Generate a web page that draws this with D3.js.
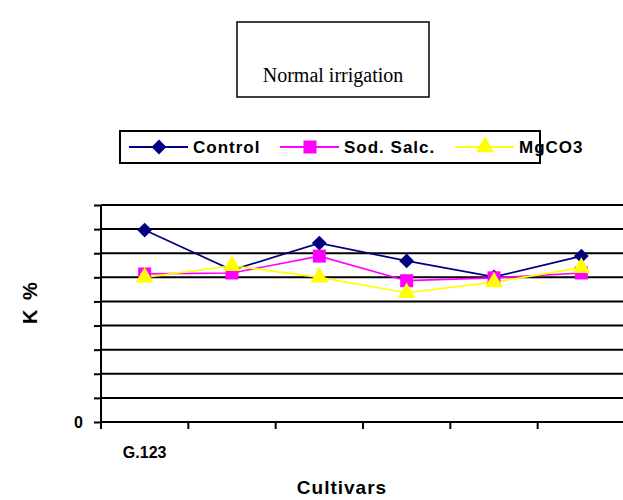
<!DOCTYPE html>
<html>
<head>
<meta charset="utf-8">
<script src="https://cdn.jsdelivr.net/npm/d3@7"></script>
<style>
  body { margin: 0; background: #fff; }
  svg { display: block; }
</style>
</head>
<body>
<div id="chart"></div>
<script>
// cultivar slots, only the first one carries a label in the source chart
const cultivars = [1, 2, 3, 4, 5, 6];
const cultivarLabels = ["G.123", "", "", "", "", ""];

const control = [3.98, 3.15, 3.71, 3.34, 3.01, 3.44];
const sodSalc = [3.07, 3.09, 3.44, 2.93, 2.99, 3.09];
const mgco3 = [3.0, 3.24, 3.0, 2.68, 2.9, 3.2];

const seriesNames = ["Control", "Sod. Salc.", "MgCO3"];
const yTicks = [0, 0.5, 1, 1.5, 2, 2.5, 3, 3.5, 4, 4.5];
const yTickLabels = ["0", "", "", "", "", "", "", "", "", ""];

const W = 623, H = 500;
const font = "Arial, 'Liberation Sans', sans-serif";
const svg = d3.select("#chart").append("svg")
  .attr("width", W).attr("height", H);

const x = d3.scaleBand().domain(cultivars).range([101, 625]).padding(0);
const y = d3.scaleLinear().domain([0, 4.5]).range([422, 205]);

// gridlines
svg.append("g")
  .selectAll("line")
  .data(yTicks.slice(1))
  .join("line")
  .attr("x1", 101).attr("x2", 625)
  .attr("y1", d => y(d)).attr("y2", d => y(d))
  .attr("stroke", "#000").attr("stroke-width", 2);

// y axis
const yAxis = svg.append("g")
  .attr("transform", "translate(101,0)")
  .call(d3.axisLeft(y).tickValues(yTicks).tickSize(7)
    .tickFormat((d, i) => yTickLabels[i]));
yAxis.select(".domain").attr("stroke-width", 2).attr("d", "M0," + (y(0) + 7) + "V" + y(4.5));
yAxis.selectAll(".tick line").attr("stroke-width", 2);
yAxis.selectAll(".tick text")
  .attr("x", -18)
  .style("font-family", font)
  .style("font-weight", "bold").style("font-size", "16px");

// x axis, ticks between categories
const bounds = cultivars.map(c => x(c));
const xAxis = svg.append("g").attr("transform", "translate(0," + y(0) + ")");
xAxis.append("line")
  .attr("x1", 101).attr("x2", 625)
  .attr("stroke", "#000").attr("stroke-width", 2);
xAxis.selectAll(".xt")
  .data(bounds)
  .join("line")
  .attr("class", "xt")
  .attr("x1", d => d).attr("x2", d => d)
  .attr("y1", 0).attr("y2", 7)
  .attr("stroke", "#000").attr("stroke-width", 2);
xAxis.selectAll(".xl")
  .data(cultivars)
  .join("text")
  .attr("class", "xl")
  .attr("x", d => x(d) + x.bandwidth() / 2)
  .attr("y", 36)
  .attr("text-anchor", "middle")
  .style("font-family", font)
  .style("font-weight", "bold").style("font-size", "16px")
  .text((d, i) => cultivarLabels[i]);

// axis titles
svg.append("text")
  .attr("x", 342).attr("y", 494)
  .attr("text-anchor", "middle")
  .style("font-family", font)
  .style("font-weight", "bold").style("font-size", "19px")
  .style("letter-spacing", "1px")
  .text("Cultivars");

svg.append("text")
  .attr("transform", "translate(37,302) rotate(-90)")
  .attr("text-anchor", "middle")
  .style("font-family", font)
  .style("font-weight", "bold").style("font-size", "20px")
  .style("letter-spacing", "2px")
  .text("K %");

// series
const series = [
  { name: seriesNames[0], values: control, color: "#000080", symbol: d3.symbolSquare, size: 110, rot: 45 },
  { name: seriesNames[1], values: sodSalc, color: "#ff00ff", symbol: d3.symbolSquare, size: 169, rot: 0 },
  { name: seriesNames[2], values: mgco3, color: "#ffff00", symbol: d3.symbolTriangle, size: 140, rot: 0 }
];

const line = d3.line()
  .x((d, i) => x(cultivars[i]) + x.bandwidth() / 2)
  .y(d => y(d));

series.forEach(s => {
  svg.append("path")
    .datum(s.values)
    .attr("fill", "none")
    .attr("stroke", s.color)
    .attr("stroke-width", 1.7)
    .attr("d", line);
});
series.forEach(s => {
  svg.append("g")
    .selectAll("path")
    .data(s.values)
    .join("path")
    .attr("transform", (d, i) => "translate(" + (x(cultivars[i]) + x.bandwidth() / 2) + "," + y(d) + ") rotate(" + s.rot + ")")
    .attr("d", d3.symbol().type(s.symbol).size(s.size))
    .attr("fill", s.color);
});

// title box
svg.append("rect")
  .attr("x", 237).attr("y", 22).attr("width", 192).attr("height", 75)
  .attr("fill", "#fff").attr("stroke", "#000").attr("stroke-width", 1.5);
svg.append("text")
  .attr("x", 333).attr("y", 82)
  .attr("text-anchor", "middle")
  .style("font-family", "'Liberation Serif', 'Times New Roman', serif")
  .style("font-size", "20px")
  .text("Normal irrigation");

// legend
const legend = svg.append("g");
legend.append("rect")
  .attr("x", 120).attr("y", 131).attr("width", 420).attr("height", 32)
  .attr("fill", "#fff").attr("stroke", "#000").attr("stroke-width", 2);
const legendX = [129, 280, 455];
series.forEach((s, i) => {
  const g = legend.append("g").attr("transform", "translate(" + legendX[i] + ",147)");
  g.append("line").attr("x1", 0).attr("x2", 59)
    .attr("stroke", s.color).attr("stroke-width", 2);
  g.append("path")
    .attr("transform", "translate(30,0) rotate(" + s.rot + ")")
    .attr("d", d3.symbol().type(s.symbol).size(s.size))
    .attr("fill", s.color);
  g.append("text")
    .attr("x", 64).attr("y", 6)
    .style("font-family", font)
    .style("font-weight", "bold").style("font-size", "17px")
    .style("letter-spacing", "1px")
    .text(s.name);
});
</script>
</body>
</html>
